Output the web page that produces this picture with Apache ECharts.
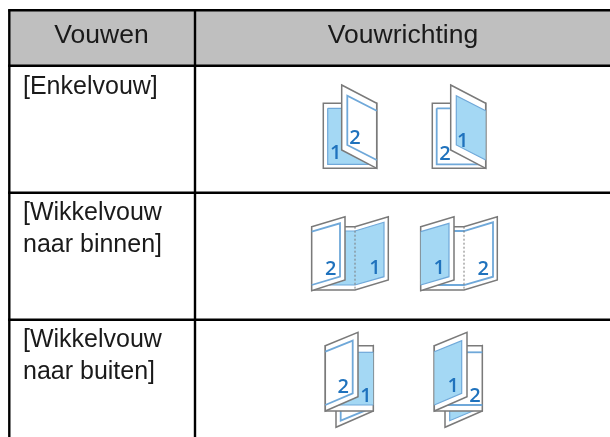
<!DOCTYPE html>
<html><head><meta charset="utf-8">
<style>html,body{margin:0;padding:0;background:#fff}#c{width:610px;height:437px}</style>
<script src="https://cdn.jsdelivr.net/npm/echarts@6/dist/echarts.min.js"></script>
</head><body><div id="c"></div>
<script>
// Table content
const headers = ["Vouwen", "Vouwrichting"];
const rowLabels = [
  ["[Enkelvouw]"],
  ["[Wikkelvouw", "naar binnen]"],
  ["[Wikkelvouw", "naar buiten]"]
];
// Axis-unit table structure
const columnEdges = [9.3, 195];
const rowEdges = [10.3, 65.7, 192.7, 319.7];
const headerCenters = [101.5, 403];
const labelCenters = [[87], [213, 245], [340.5, 372]];
const labelX = 23;
const iconShift = [0, 109];

// Folded sheets, layer by layer. null = gap in the outline. side: which sheet ("A" or "B")
const foldSingle = [
  {kind:"page", pts:[[323.3,103.3],[376.7,103.3],[376.7,168.3],[323.3,168.3]]},
  {kind:"inner", side:"A", pts:[[327.7,108.3],[376,108.3],[376,164.3],[327.7,164.3],[327.7,108.3]]},
  {kind:"page", pts:[[341.7,85],[376.7,103.3],[376.7,168.3],[341.7,150]]},
  {kind:"inner", side:"B", pts:[[376.7,110.7],[347.3,95.7],[347.3,145],[376.7,160]]}
];
const foldInward = [
  {kind:"page", pts:[[311.7,226.7],[355,226.7],[388.3,216.7],[388.3,280],[355,290],[311.7,290]]},
  {kind:"inner", side:"A", pts:[[340,231],[355,231],[384,222.3],[384,276.7],[355,285],[311.7,285]]},
  {kind:"fold", pts:[[355,226.7],[355,290]]},
  {kind:"page", pts:[[311.7,226.7],[345,216.7],[345,280],[311.7,290.7]]},
  {kind:"inner", side:"B", pts:[[311.7,231.7],[340,223.3],[340,276.7],[311.7,285]]}
];
const foldOutward = [
  {kind:"page", pts:[[336,360],[373.3,345.7],[373.3,411],[336,427.3]]},
  {kind:"inner", side:"B", pts:[[340.7,395],null,[340.7,395],[340.7,420.7],[368,409.3]]},
  {kind:"page", pts:[[325.3,345.7],[373.3,345.7],[373.3,411],[325.3,411]]},
  {kind:"inner", side:"A", pts:[[350,352.3],[373.3,352.3],null,[373.3,405],[325.3,405]]},
  {kind:"page", pts:[[325.3,345.7],[358,332.3],[358,396.7],[325.3,411]]},
  {kind:"inner", side:"B", pts:[[325.3,351.7],[352.7,340.7],[352.7,393.3],[325.3,405]]}
];
const foldFigures = [foldSingle, foldInward, foldOutward];
// Page numbers per figure: [number, x, y]
const pageNumbers = [
  [[["1",335.7,153.7],["2",355,138.7]], [["2",336,154.3],["1",353.7,141]]],
  [[["2",330.7,269.3],["1",375,268.3]], [["1",330.3,268.3],["2",374.3,269.3]]],
  [[["2",343.3,387],["1",366,396.7]], [["1",344.3,386.7],["2",366,396.7]]]
];

const C = {line:"#000", head:"#bfbfbf", text:"#1a1a1a", gray:"#7a7a7a", blue:"#a4d8f4", blueLine:"#6fa8d9", num:"#1f72bd"};
const tableW = 610, tableH = 437;
const items = [];
items.push({t:"poly", pts:[[columnEdges[0],rowEdges[0]],[tableW,rowEdges[0]],[tableW,rowEdges[1]],[columnEdges[0],rowEdges[1]]], fill:C.head});
foldFigures.forEach((fig, r) => iconShift.forEach((dx, k) => {
  const sheetA = k === 0 ? "blue" : "white";
  fig.forEach(l => {
    const pts = l.pts.map(p => p ? [p[0]+dx, p[1]] : null);
    if (l.kind === "page") {
      items.push({t:"poly", pts, fill:"#fff", stroke:C.gray, lw:1.5});
    } else if (l.kind === "fold") {
      items.push({t:"line", pts, stroke:C.gray, lw:1, dash:[2,2]});
    } else {
      const isBlue = (l.side === "A") === (sheetA === "blue");
      if (isBlue) items.push({t:"poly", pts:pts.filter(Boolean), fill:C.blue});
      let run = [];
      pts.concat([null]).forEach(p => {
        if (p) run.push(p);
        else { if (run.length > 1) items.push({t:"line", pts:run, stroke:C.blueLine, lw:isBlue?1.2:1.8}); run = []; }
      });
    }
  });
  pageNumbers[r][k].forEach(n => items.push({t:"text", s:n[0], x:n[1]+dx, y:n[2], size:20, weight:600, color:C.num, font:"Open Sans", align:"center"}));
}));
rowEdges.forEach(y => items.push({t:"line", pts:[[columnEdges[0]-1.2,y],[tableW,y]], stroke:C.line, lw:2.4}));
columnEdges.forEach(x => items.push({t:"line", pts:[[x,rowEdges[0]],[x,tableH]], stroke:C.line, lw:2.4}));
headers.forEach((h,i) => items.push({t:"text", s:h, x:headerCenters[i], y:36, size:26.5, color:C.text, font:"Liberation Sans", align:"center"}));
rowLabels.forEach((lines,r) => lines.forEach((s,j) => items.push({t:"text", s, x:labelX, y:labelCenters[r][j], size:25, color:C.text, font:"Liberation Sans", align:"left"})));

const chart = echarts.init(document.getElementById("c"), null, {renderer:"canvas"});
chart.setOption({
  animation:false,
  grid:{left:0,right:0,top:0,bottom:0},
  xAxis:{type:"value",min:0,max:610,show:false},
  yAxis:{type:"value",min:0,max:437,inverse:true,show:false},
  series:[{
    type:"custom", coordinateSystem:"cartesian2d", silent:true, clip:false,
    data:items.map((_,i)=>[i,0]), encode:{x:1,y:1},
    renderItem(params, api){
      const it = items[params.dataIndex];
      if (it.t === "text") {
        const p = api.coord([it.x,it.y]);
        return {type:"text", style:{x:p[0], y:p[1], text:it.s, fill:it.color, fontSize:it.size, fontWeight:it.weight||400, fontFamily:it.font, align:it.align, verticalAlign:"middle"}};
      }
      const points = it.pts.map(p => api.coord(p));
      if (it.t === "poly") return {type:"polygon", shape:{points}, style:{fill:it.fill, stroke:it.stroke||null, lineWidth:it.lw||0}};
      return {type:"polyline", shape:{points}, style:{fill:null, stroke:it.stroke, lineWidth:it.lw, lineDash:it.dash||null}};
    }
  }]
});
</script></body></html>
